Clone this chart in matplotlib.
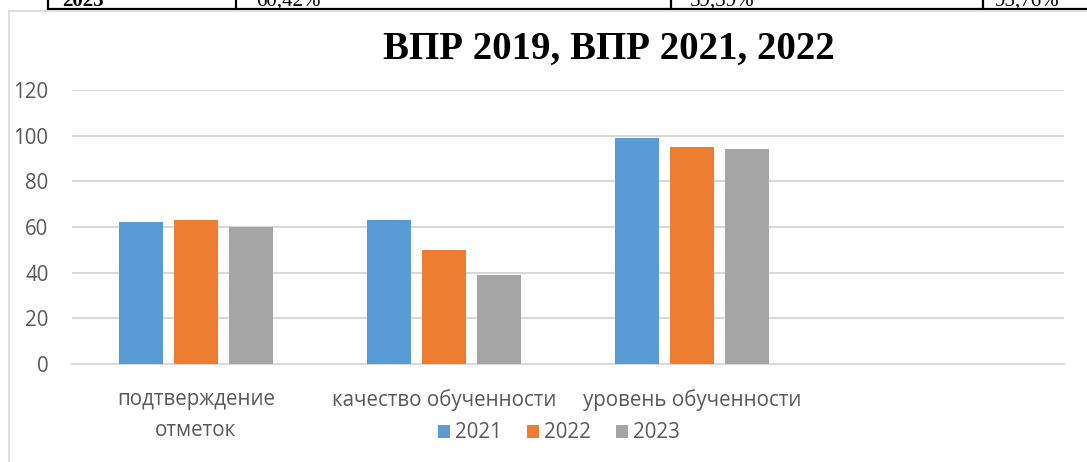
import matplotlib.pyplot as plt
import numpy as np
from matplotlib.lines import Line2D

# данные диаграммы
categories = ['подтверждение\nотметок', 'качество обученности', 'уровень обученности', '']
years = ['2021', '2022', '2023']
values_2021 = [62, 63, 99, None]
values_2022 = [63, 50, 95, None]
values_2023 = [60, 39, 94, None]
colors = ['#5B9BD5', '#ED7D31', '#A5A5A5']

# обрывок таблицы над диаграммой
table_cells = ['2023', '60,42%', '59,39%', '95,76%']
table_cells_x = [62, 256, 690, 994]
table_lines_x = [48, 236, 671, 983]

W, H = 1087, 462
fig = plt.figure(figsize=(W / 100, H / 100), dpi=100)
fig.patch.set_facecolor('white')

# таблица сверху
for i, (txt, xp) in enumerate(zip(table_cells, table_cells_x)):
    fig.text(xp / W, 1 - 6 / H, txt, fontsize=15, family='Liberation Serif',
             fontweight='bold' if i == 0 else 'normal', va='baseline', ha='left')
fig.add_artist(Line2D([48 / W, 1], [1 - 9 / H, 1 - 9 / H], color='black', lw=1.6,
                      transform=fig.transFigure))
for xp in table_lines_x:
    fig.add_artist(Line2D([xp / W, xp / W], [1, 1 - 9 / H], color='black', lw=1.6,
                          transform=fig.transFigure))

# рамка диаграммы
fig.add_artist(Line2D([9 / W, 9 / W], [0, 1 - 11 / H], color='#D9D9D9', lw=1.2,
                      transform=fig.transFigure))
fig.add_artist(Line2D([9 / W, 1], [1 - 11 / H, 1 - 11 / H], color='#D9D9D9', lw=1.2,
                      transform=fig.transFigure))

ax = fig.add_axes([72 / W, (H - 364) / H, (1064 - 72) / W, (364 - 90) / H])

x = np.arange(len(categories))
series = [values_2021, values_2022, values_2023]
step = 0.222
width = 0.174
for i, (vals, col, yr) in enumerate(zip(series, colors, years)):
    v = [np.nan if a is None else a for a in vals]
    ax.bar(x + (i - 1) * step, v, width, color=col, label=yr, zorder=3)

ax.set_xlim(-0.5, len(categories) - 0.5)
ax.set_ylim(0, 120)
ax.set_yticks(range(0, 121, 20))
ax.yaxis.grid(True, color='#D9D9D9', lw=1.5, zorder=0)
ax.set_axisbelow(True)
for s in ['top', 'right', 'left']:
    ax.spines[s].set_visible(False)
ax.spines['bottom'].set_color('#D9D9D9')
ax.spines['bottom'].set_linewidth(1.5)
ax.tick_params(axis='both', length=0, colors='#595959', labelsize=14.8)
ax.tick_params(axis='y', pad=17)
ax.tick_params(axis='x', pad=18)
ax.set_xticks(x)
ax.set_xticklabels(categories, family='Open Sans', linespacing=1.6)
for lbl in ax.get_yticklabels():
    lbl.set_family('Open Sans')

fig.text(609 / W, 1 - 49 / H, 'ВПР 2019, ВПР 2021, 2022', family='Liberation Serif',
         fontweight='bold', fontsize=28, ha='center', va='center')

leg = fig.legend(loc='center', bbox_to_anchor=(559 / W, 1 - 433 / H), ncol=3,
                 frameon=False, handlelength=0.6, handleheight=0.6, handletextpad=0.25,
                 columnspacing=1.2, prop={'family': 'Open Sans', 'size': 14.8})
for t in leg.get_texts():
    t.set_color('#595959')

fig.savefig('out.png', dpi=100, facecolor='white')
